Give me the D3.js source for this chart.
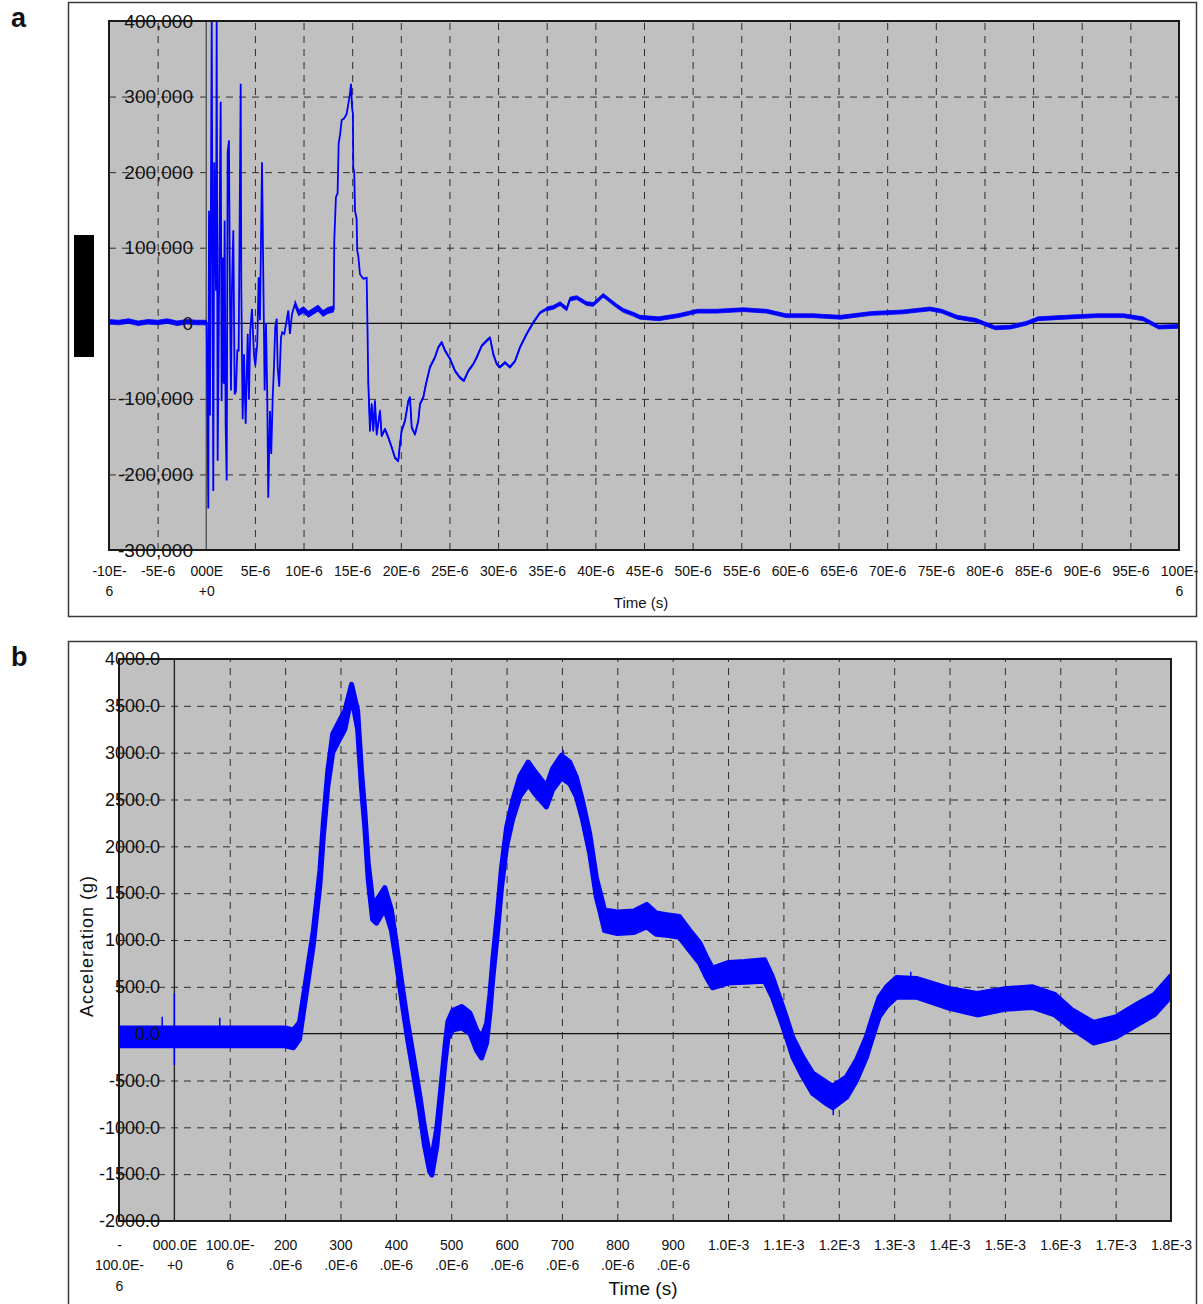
<!DOCTYPE html>
<html><head><meta charset="utf-8">
<script src="https://cdn.jsdelivr.net/npm/d3@7"></script>
<style>
body{margin:0;background:#fff}
svg{display:block}
text{font-family:"Liberation Sans",Arial,Helvetica,sans-serif;fill:#111}
</style>
</head><body>
<svg id="c" width="1203" height="1304"></svg>
<script>
// ---------------- Panel a data (time in µs, value in thousands) ----------------
const xTicksA = [-10,-5,0,5,10,15,20,25,30,35,40,45,50,55,60,65,70,75,80,85,90,95,100];
const xLabelsA = ["-10E-\n6","-5E-6","000E\n+0","5E-6","10E-6","15E-6","20E-6","25E-6","30E-6","35E-6","40E-6","45E-6","50E-6","55E-6","60E-6","65E-6","70E-6","75E-6","80E-6","85E-6","90E-6","95E-6","100E-\n6"];
const yTicksA = [-300,-200,-100,0,100,200,300,400];
const yLabelsA = ["-300,000","-200,000","-100,000","0","100,000","200,000","300,000","400,000"];

const tA = [-10,-9,-8,-7,-6,-5,-4,-3,-2,-1,0,
0.04,0.21,0.28,0.38,0.56,0.72,0.82,1.0,1.07,1.17,1.34,1.48,1.58,1.69,1.79,1.89,1.99,2.1,2.2,2.33,
2.44,2.54,2.64,2.78,2.92,3.05,3.19,3.33,3.54,3.6,3.74,3.88,4.05,4.26,4.39,4.52,4.7,4.9,5.04,5.24,
5.39,5.52,5.73,5.86,6.0,6.14,6.27,6.37,6.55,6.68,6.83,6.96,7.09,7.24,7.34,7.5,7.68,7.81,8.02,8.27,
8.43,8.6,8.81,9.12,
9.5,10,10.5,11,11.5,12,12.5,13.1,
13.16,13.33,13.5,13.61,13.75,13.92,14.16,14.43,14.6,14.77,14.88,14.98,15.08,15.11,15.21,15.29,15.46,15.52,15.63,15.8,
16.14,16.49,16.59,16.65,16.83,17.0,17.17,17.34,17.52,17.86,18.03,18.37,18.71,19.06,19.4,19.74,19.91,20.09,20.43,20.77,
20.94,21.12,21.46,21.8,21.97,22.31,22.59,23.0,23.51,23.85,24.2,24.54,25.06,25.57,26.08,26.49,26.94,27.45,27.8,28.31,
28.83,29.17,29.51,29.86,30.19,30.71,31.22,31.74,32.25,32.94,33.62,34.31,35.0,35.67,36.38,37.05,37.39,38.08,39.11,39.79,
40.81,41.5,42.19,42.87,43.9,44.6,
46.5,48.5,50.5,52.5,55.2,57.6,59.6,62.4,65.2,68.4,71.6,74.4,75.6,77.2,79.1,81.1,82.7,84.3,85.5,88.3,91.5,94.3,96.3,97.9,100];
const vA = [2,1,3,0,2,1,3,0,2,1,1,
1,-245,149,-122,400,-222,213,43,400,-182,83,293,-103,87,-80,136,-133,-208,226,242,
30,-89,47,123,-94,-90,-36,-36,317,47,-127,-41,-133,-14,-101,-10,19,-41,-56,-27,
61,4,213,65,-89,0,-98,-231,-116,-173,-98,-58,-5,6,-58,-84,-19,-12,-14,4,
17,-14,12,26,
14,18,12,16,20,13,17,19,
110,167,172,238,249,269,271,277,290,304,317,286,277,206,200,149,138,96,89,65,
59,60,-19,-76,-142,-107,-142,-103,-147,-116,-149,-140,-151,-164,-178,-182,-160,-142,-129,-103,
-98,-138,-147,-129,-107,-98,-80,-58,-45,-32,-25,-36,-47,-63,-72,-76,-63,-54,-45,-30,
-23,-19,-41,-54,-58,-52,-58,-50,-32,-14,1,14,19,21,26,19,32,34,26,25,
37,30,23,17,12,8,
6,10,16,16,18,16,10,10,8,13,15,19,16,8,4,-6,-5,0,6,8,10,10,6,-5,-4];
// noise band half-width (thousands) over time ranges [tStart, tEnd, halfWidth]
const bandA = [[-10,0,3],[9.12,13.1,4],[16.6,35,1.5],[35,100,2.5]];

// ---------------- Panel b data (time in µs, acceleration in g) ----------------
const xTicksB = [-100,0,100,200,300,400,500,600,700,800,900,1000,1100,1200,1300,1400,1500,1600,1700,1800];
const xLabelsB = ["-\n100.0E-\n6","000.0E\n+0","100.0E-\n6","200\n.0E-6","300\n.0E-6","400\n.0E-6","500\n.0E-6","600\n.0E-6","700\n.0E-6","800\n.0E-6","900\n.0E-6","1.0E-3","1.1E-3","1.2E-3","1.3E-3","1.4E-3","1.5E-3","1.6E-3","1.7E-3","1.8E-3"];
const yTicksB = [-2000,-1500,-1000,-500,0,500,1000,1500,2000,2500,3000,3500,4000];
const yLabelsB = ["-2000.0","-1500.0","-1000.0","-500.0","0.0","500.0","1000.0","1500.0","2000.0","2500.0","3000.0","3500.0","4000.0"];

const tB = [-100,-50,0,100,200,215,226,251,263,269,277,286,299,308,320,331,338,344,350,358,
365,380,392,401,412,421,431,443,452,461,465,474,483,489,494,503,519,534,546,555,
564,570,575,584,591,600,611,624,639,651,672,683,699,714,726,737,750,762,768,777,
800,830,853,870,889,912,930,949,961,972,1000,1030,1066,1080,1093,1105,1117,1135,1153,1178,
1189,1214,1232,1250,1261,1273,1286,1304,1340,1400,1450,1500,1550,1590,1620,1660,1700,1740,1770,1800];
const loB = [-130,-130,-130,-130,-130,-150,-60,950,1600,2100,2630,3000,3150,3250,3600,3250,2620,2200,1650,1220,
1180,1330,1100,760,300,-50,-400,-830,-1200,-1470,-1510,-1200,-660,-300,-50,40,60,0,-180,-260,
-100,230,580,1110,1570,2000,2290,2530,2660,2560,2420,2600,2730,2670,2530,2290,1930,1460,1320,1100,
1070,1080,1140,1060,1050,1030,890,750,600,490,540,550,560,390,180,-30,-250,-460,-640,-750,
-790,-680,-500,-250,-40,180,290,390,390,270,200,260,280,200,60,-100,-40,100,200,400];
const hiB = [60,60,60,60,60,40,120,1100,1750,2250,2800,3200,3350,3450,3730,3450,2800,2370,1830,1420,
1420,1560,1320,960,490,130,-220,-650,-1010,-1300,-1330,-1010,-480,-120,130,250,290,220,40,-40,
110,420,780,1320,1780,2200,2490,2750,2900,2800,2640,2830,2970,2900,2740,2490,2140,1670,1530,1320,
1300,1310,1380,1290,1270,1250,1110,970,820,700,760,770,790,610,390,180,-40,-250,-420,-520,
-560,-460,-280,-30,180,390,500,600,590,480,430,480,500,420,260,120,180,320,420,620];
// isolated spikes: [time, low, high]
const spikesB = [[-22,-130,180],[0,-335,430],[82,-130,170],[702,2700,3030],[1190,-870,-560],[1330,380,660]];

// ---------------- drawing ----------------
const svg = d3.select("#c");
const BLUE = "#0000ff";

function multiLine(sel, labels, lineH){
  sel.selectAll(".tick text").each(function(d,i){
    const t = d3.select(this);
    const parts = labels[i].split("\n");
    t.text(null);
    parts.forEach((p,k)=>{
      t.append("tspan").attr("x",0).attr("dy", k===0 ? "0.71em" : lineH).text(p);
    });
    t.attr("dy",null);
  });
}

function frame(o){
  const x = d3.scaleLinear().domain([o.xTicks[0], o.xTicks[o.xTicks.length-1]]).range([o.x0,o.x1]);
  const y = d3.scaleLinear().domain([o.yTicks[0], o.yTicks[o.yTicks.length-1]]).range([o.y1,o.y0]);
  const g = svg.append("g");
  g.append("rect").attr("x",68.5).attr("y",o.fy).attr("width",1128).attr("height",o.fh)
    .attr("fill","#fff").attr("stroke","#3a3a3a").attr("stroke-width",1.5);
  g.append("rect").attr("x",o.x0).attr("y",o.y0).attr("width",o.x1-o.x0).attr("height",o.y1-o.y0).attr("fill","#c0c0c0");
  const xIn = o.xTicks.filter((t,i)=>t!==0 && i>0 && i<o.xTicks.length-1);
  const yIn = o.yTicks.filter((t,i)=>t!==0 && i>0 && i<o.yTicks.length-1);
  g.append("g").attr("transform",`translate(0,${o.y1})`)
    .call(d3.axisBottom(x).tickValues(xIn).tickSize(-(o.y1-o.y0)).tickFormat(""))
    .call(s=>{s.select(".domain").remove(); s.selectAll("line").attr("stroke","#2e2e2e").attr("stroke-width",1).attr("stroke-dasharray","7,6");});
  g.append("g").attr("transform",`translate(${o.x0},0)`)
    .call(d3.axisLeft(y).tickValues(yIn).tickSize(-(o.x1-o.x0)).tickFormat(""))
    .call(s=>{s.select(".domain").remove(); s.selectAll("line").attr("stroke","#2e2e2e").attr("stroke-width",1).attr("stroke-dasharray","7,6");});
  g.append("line").attr("x1",o.x0).attr("x2",o.x1).attr("y1",y(0)).attr("y2",y(0)).attr("stroke","#111").attr("stroke-width",1.2);
  g.append("line").attr("x1",x(0)).attr("x2",x(0)).attr("y1",o.y0).attr("y2",o.y1).attr("stroke",o.vzero).attr("stroke-width",1.4);
  svg.append("clipPath").attr("id",o.id).append("rect").attr("x",o.x0).attr("y",o.y0).attr("width",o.x1-o.x0).attr("height",o.y1-o.y0);
  const data = svg.append("g").attr("clip-path",`url(#${o.id})`);
  return {x,y,g,data};
}

function finish(o, x, y){
  svg.append("rect").attr("x",o.x0).attr("y",o.y0).attr("width",o.x1-o.x0).attr("height",o.y1-o.y0)
    .attr("fill","none").attr("stroke","#1a1a1a").attr("stroke-width",2);
  svg.append("g").attr("transform",`translate(${o.x0},0)`)
    .call(d3.axisLeft(y).tickValues(o.yTicks).tickFormat((d,i)=>o.yLabels[i]).tickSize(0).tickPadding(-o.yLabelRight))
    .call(s=>{s.select(".domain").remove(); s.selectAll("text").attr("font-size",o.yFont).attr("fill","#111").style("font-family","'Liberation Sans',Arial,sans-serif");});
  const ax = svg.append("g").attr("transform",`translate(0,${o.y1})`)
    .call(d3.axisBottom(x).tickValues(o.xTicks).tickFormat((d,i)=>o.xLabels[i]).tickSize(0).tickPadding(o.xPad))
    .call(s=>{s.select(".domain").remove(); s.selectAll("text").attr("font-size",14).attr("fill","#111").style("font-family","'Liberation Sans',Arial,sans-serif");});
  multiLine(ax, o.xLabels, o.lineH);
}

// ----- Panel a -----
const oA = {id:"clipA", x0:109, x1:1179, y0:21, y1:550, fy:2.5, fh:614, xTicks:xTicksA, yTicks:yTicksA,
  xLabels:xLabelsA, yLabels:yLabelsA, vzero:"#555", yFont:19, yLabelRight:84, xPad:16, lineH:"20px"};
const A = frame(oA);
const ptsA = tA.map((t,i)=>({t, v:vA[i]}));
bandA.forEach(([s,e,h])=>{
  const seg = ptsA.filter(p=>p.t>=s && p.t<=e);
  A.data.append("path").datum(seg)
    .attr("d", d3.area().x(p=>A.x(p.t)).y0(p=>A.y(p.v-h)).y1(p=>A.y(p.v+h)))
    .attr("fill",BLUE).attr("stroke",BLUE).attr("stroke-width",0.8);
});
A.data.append("path").datum(ptsA)
  .attr("d", d3.line().x(p=>A.x(p.t)).y(p=>A.y(p.v)))
  .attr("fill","none").attr("stroke",BLUE).attr("stroke-width",1.8).attr("stroke-linejoin","miter").attr("stroke-miterlimit",2);
finish(oA, A.x, A.y);
svg.append("text").attr("x",641).attr("y",608).attr("text-anchor","middle").attr("font-size",15).text("Time (s)");
svg.append("rect").attr("x",74).attr("y",235).attr("width",20).attr("height",122).attr("fill","#000");
svg.append("text").attr("x",11).attr("y",27).attr("font-size",27).attr("font-weight","bold").text("a");

// ----- Panel b -----
const oB = {id:"clipB", x0:119, x1:1171, y0:659, y1:1221, fy:641.5, fh:700, xTicks:xTicksB, yTicks:yTicksB,
  xLabels:xLabelsB, yLabels:yLabelsB, vzero:"#222", yFont:18, yLabelRight:41, xPad:19, lineH:"20.5px"};
const B = frame(oB);
const ptsB = tB.map((t,i)=>({t, lo:loB[i], hi:hiB[i]}));
B.data.append("path").datum(ptsB)
  .attr("d", d3.area().x(p=>B.x(p.t)).y0(p=>B.y(p.lo)).y1(p=>B.y(p.hi)))
  .attr("fill",BLUE).attr("stroke",BLUE).attr("stroke-width",5).attr("stroke-linejoin","round");
B.data.selectAll(".spk").data(spikesB).join("line").attr("class","spk")
  .attr("x1",d=>B.x(d[0])).attr("x2",d=>B.x(d[0])).attr("y1",d=>B.y(d[1])).attr("y2",d=>B.y(d[2]))
  .attr("stroke",BLUE).attr("stroke-width",1.5);
finish(oB, B.x, B.y);
svg.append("text").attr("x",643).attr("y",1295).attr("text-anchor","middle").attr("font-size",19).text("Time (s)");
svg.append("text").attr("transform","translate(93,946) rotate(-90)").attr("text-anchor","middle")
  .attr("font-size",18).attr("letter-spacing","1px").text("Acceleration (g)");
svg.append("text").attr("x",11).attr("y",666).attr("font-size",27).attr("font-weight","bold").text("b");
</script>
</body></html>
